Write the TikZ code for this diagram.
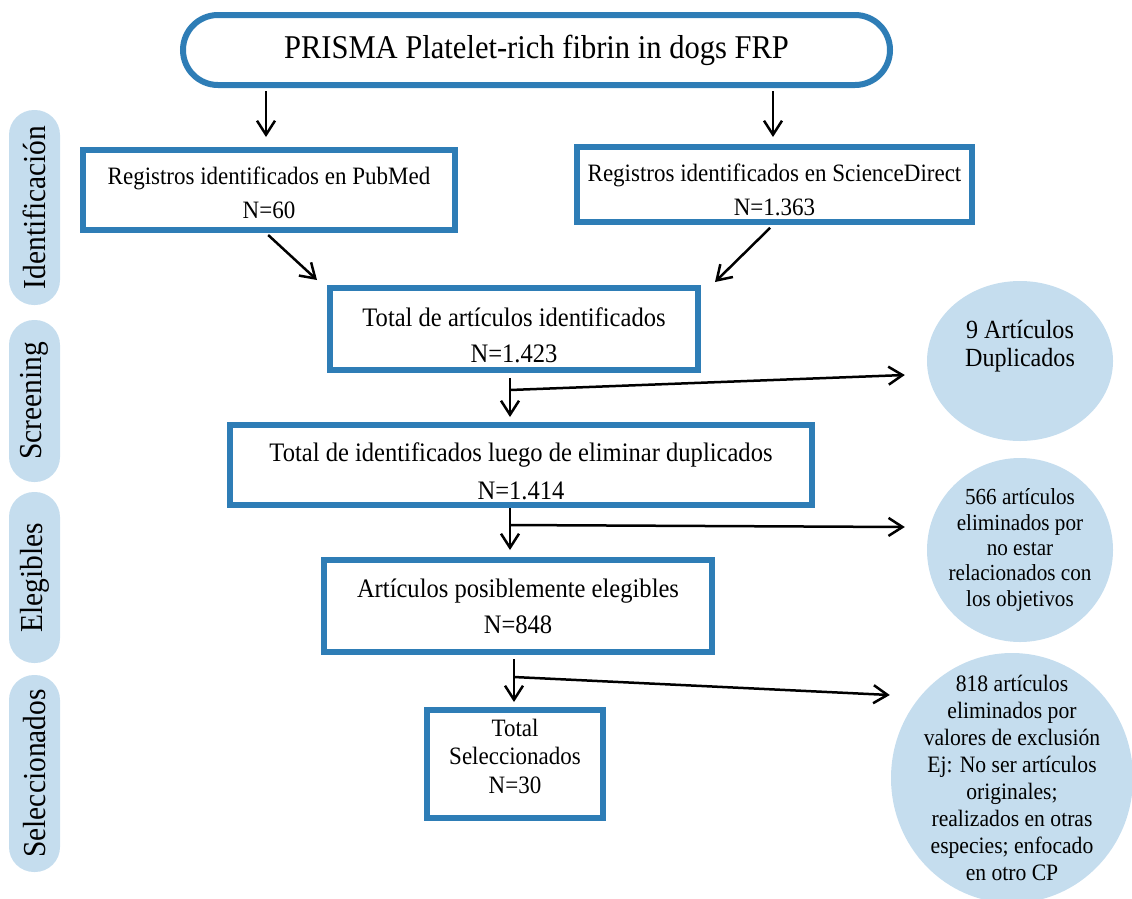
\documentclass[tikz,border=0pt]{standalone}
\usepackage{fontspec}
\setmainfont[FakeStretch=0.92]{Liberation Serif}
\usetikzlibrary{arrows.meta,shapes.geometric}
\definecolor{boxblue}{RGB}{46,125,182}
\definecolor{pillblue}{RGB}{197,221,238}
\begin{document}
\begin{tikzpicture}[x=1pt,y=-1pt,
  stepbox/.style={draw=boxblue, line width=6pt, rectangle, inner sep=0pt},
  txt/.style={align=center, inner sep=0pt},
  pill/.style={fill=pillblue, rectangle, rounded corners=25pt, rotate=90, inner sep=0pt,
    minimum height=51pt, font=\fontsize{32}{38}\selectfont},
  blob/.style={fill=pillblue, ellipse, inner sep=0pt},
  arr/.style={-{Straight Barb[length=14pt,width=18pt,line width=2.5pt]}, line width=2.5pt, black}
]
\useasboundingbox (0,0) rectangle (1132,898);
\clip (0,0) rectangle (1132,898);

% title
\node[draw=boxblue, line width=6pt, rounded corners=35pt, minimum width=707pt, minimum height=70pt,
  font=\fontsize{33.2}{38}\selectfont] (title) at (536.5,50) {PRISMA Platelet-rich fibrin in dogs FRP};

% phase pills
\node[pill, minimum width=195pt] (p1) at (34.5,207.5) {Identificación};
\node[pill, minimum width=162pt] (p2) at (34.5,401) {Screening};
\node[pill, minimum width=171pt] (p3) at (34.5,577.5) {Elegibles};
\node[pill, minimum width=197pt] (p4) at (34.5,773.5) {Seleccionados};

% boxes
\node[stepbox, minimum width=372pt, minimum height=80pt] (pub) at (269,190) {};
\node[txt, font=\fontsize{25}{34}\selectfont] (pubt) at ([yshift=-3pt]pub.center) {Registros identificados en PubMed\\N=60};
\node[stepbox, minimum width=395pt, minimum height=75pt] (sd) at (774.5,184.5) {};
\node[txt, font=\fontsize{25}{34}\selectfont] (sdt) at ([yshift=-5pt]sd.center) {Registros identificados en ScienceDirect\\N=1.363};
\node[stepbox, minimum width=368pt, minimum height=82pt] (t1) at (514,329) {};
\node[txt, font=\fontsize{26.7}{36}\selectfont] (t1t) at ([yshift=-6.5pt]t1.center) {Total de artículos identificados\\N=1.423};
\node[stepbox, minimum width=582pt, minimum height=80pt] (t2) at (521,465) {};
\node[txt, font=\fontsize{26.7}{38}\selectfont] (t2t) at ([yshift=-6pt]t2.center) {Total de identificados luego de eliminar duplicados\\N=1.414};
\node[stepbox, minimum width=388pt, minimum height=92pt] (el) at (518,606) {};
\node[txt, font=\fontsize{26.7}{36}\selectfont] (elt) at (el.center) {Artículos posiblemente elegibles\\N=848};
\node[stepbox, minimum width=176pt, minimum height=108pt] (sel) at (515,764) {};
\node[txt, font=\fontsize{25}{28.5}\selectfont] (selt) at ([yshift=8pt]sel.center) {Total\\Seleccionados\\N=30};

% exclusion ellipses
\node[blob, minimum width=186pt, minimum height=160pt] (c1) at (1020,361) {};
\node[txt, font=\fontsize{26.2}{28}\selectfont] (c1t) at ([yshift=15pt]c1.center) {9 Artículos\\Duplicados};
\node[blob, minimum width=186pt, minimum height=184pt] (c2) at (1020,550) {};
\node[txt, font=\fontsize{23}{25.4}\selectfont] (c2t) at (c2.center) {566 artículos\\eliminados por\\no estar\\relacionados con\\los objetivos};
\node[blob, minimum width=242pt, minimum height=250pt] (c3) at (1012,778) {};
\node[txt, font=\fontsize{23.5}{27}\selectfont] (c3t) at (c3.center) {818 artículos\\eliminados por\\valores de exclusión\\Ej: No ser artículos\\originales;\\realizados en otras\\especies; enfocado\\en otro CP};

% arrows
\draw[arr, shorten <=3pt, shorten >=10pt] ([xshift=-270.5pt]title.south) -- ([xshift=-3pt]pub.north);
\draw[arr, shorten <=3pt, shorten >=7pt] ([xshift=236.5pt]title.south) -- ([xshift=-1.5pt]sd.north);
\draw[arr, shorten <=3pt] ([xshift=-3pt]pub.south) -- ([xshift=-10pt,yshift=5pt]t1.north west);
\draw[arr, shorten <=4pt] ([xshift=-1.5pt]sd.south) -- ([xshift=14pt,yshift=3pt]t1.north east);

\draw[arr, shorten <=5pt, shorten >=5pt] ([xshift=-4pt]t1.south) -- ([xshift=-11pt]t2.north);
\coordinate (j1) at (510,390);
\draw[arr] (j1) -- ([xshift=-22pt,yshift=-14pt]c1.west);

\draw[arr, shorten >=7pt] ([xshift=-11pt]t2.south) -- ([xshift=-8pt]el.north);
\coordinate (j2) at (510,525);
\draw[arr] (j2) -- ([xshift=-22pt,yshift=23pt]c2.west);

\draw[arr, shorten <=4pt, shorten >=5pt] ([xshift=-4pt]el.south) -- ([xshift=-1pt]sel.north);
\coordinate (j3) at (514,677);
\draw[arr] (j3) -- ([xshift=-1pt,yshift=83pt]c3.west);
\end{tikzpicture}
\end{document}
